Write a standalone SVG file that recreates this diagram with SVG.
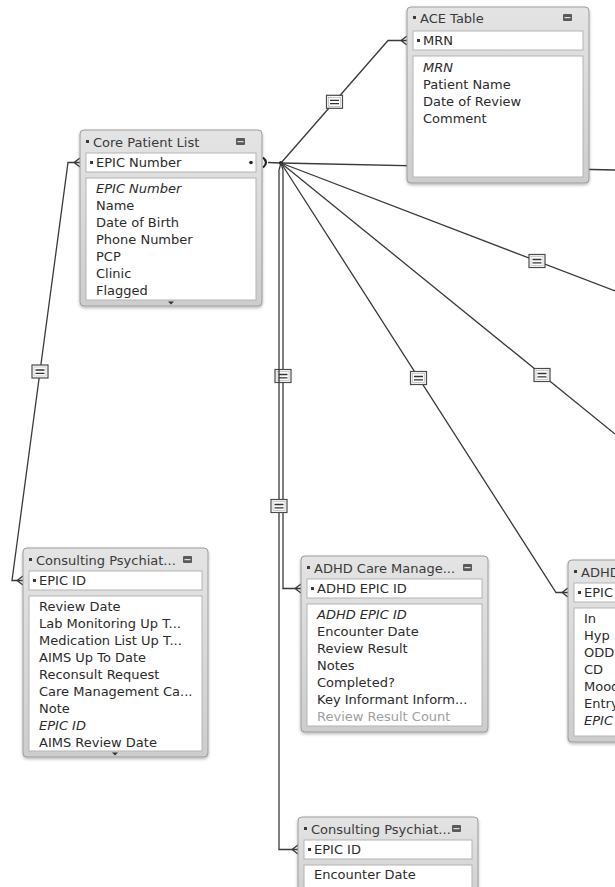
<svg xmlns="http://www.w3.org/2000/svg" width="615" height="887" viewBox="0 0 615 887">
<defs>
<style>
.frame{fill:url(#fg);stroke:#9c9c9c;stroke-width:1;filter:url(#sh)}
.box{fill:#fff;stroke:#b4b4b4;stroke-width:1}
.t{font-family:"DejaVu Sans","Liberation Sans",sans-serif;font-size:13px;fill:#2b2b2b}
.ti{fill:#3a3a3a}
.it{font-style:italic}
.dim{fill:#a0a0a0}
.bul{fill:#3a3a3a}
.conn{fill:none;stroke:#3a3a3a;stroke-width:1.3}
.one{fill:none;stroke:#222;stroke-width:2.2}
</style>
<linearGradient id="fg" x1="0" y1="0" x2="0" y2="1"><stop offset="0" stop-color="#e4e4e4"/><stop offset="1" stop-color="#cdcdcd"/></linearGradient>
<filter id="sh" x="-5%" y="-5%" width="110%" height="110%"><feDropShadow dx="0" dy="1.5" stdDeviation="1.5" flood-color="#000" flood-opacity="0.3"/></filter>
<g id="eq"><rect x="-8" y="-6.5" width="16" height="13" fill="#fff" stroke="#4a4a4a" stroke-width="1.2"/><rect x="-6" y="-4.5" width="12" height="9" fill="none" stroke="#aaa" stroke-width="0.6"/><path d="M-4.5,-1.5H4.5M-4.5,1.8H4.5" stroke="#333" stroke-width="1.3"/></g>
<path id="crow" d="M0,-4.5L-6,0L0,4.5M-6,0H0" fill="none" stroke="#3a3a3a" stroke-width="1.3"/>
<g id="ticon"><rect x="0" y="0" width="9" height="7" rx="1" fill="#5a5a5a"/><rect x="1.5" y="3" width="6" height="1.2" fill="#ddd"/></g>
</defs>
<rect width="615" height="887" fill="#fff"/>

<g id="connectors">
<path class="conn" d="M268,162.5L281,163"/>
<path class="one" d="M263,157.5Q269,162.5 263,167.5"/>
<circle cx="281" cy="163" r="2" fill="#222"/>
<path class="conn" d="M281,163L388,40.5H401"/>
<use href="#crow" x="407" y="40.5"/>
<use href="#eq" x="334.5" y="101.8"/>
<path class="conn" d="M281,163L615,170"/>
<path class="conn" d="M281,163L615,291"/>
<use href="#eq" x="537" y="261"/>
<path class="conn" d="M281,163L615,434"/>
<use href="#eq" x="542" y="375"/>
<path class="conn" d="M281,163L556,592.5H562"/>
<use href="#crow" x="568" y="592.5"/>
<use href="#eq" x="418.5" y="378"/>
<path class="conn" d="M281,163L283,170V588.5H295"/>
<use href="#crow" x="301" y="588.5"/>
<use href="#eq" x="283" y="376"/>
<path class="conn" d="M281,163L279,170V849.5H292"/>
<use href="#crow" x="298" y="849.5"/>
<use href="#eq" x="279" y="506"/>
<path class="conn" d="M74,162.5H68L12,580.5H17"/>
<use href="#crow" x="80" y="162.5"/>
<use href="#crow" x="23" y="580.5"/>
<use href="#eq" x="40" y="371.5"/>
</g>

<g id="core-patient-list">
<rect class="frame" x="80" y="130" width="182" height="176" rx="4"/>
<rect class="bul" x="86" y="140" width="3" height="3"/>
<text class="t ti" x="93" y="147">Core Patient List</text>
<use href="#ticon" x="236" y="138"/>
<rect class="box" x="86" y="153" width="170" height="19"/>
<rect class="bul" x="90" y="161" width="3" height="3"/>
<text class="t" x="96" y="167">EPIC Number</text>
<circle cx="251" cy="162.5" r="1.8" fill="#222"/>
<rect class="box" x="86" y="178" width="170" height="122"/>
<text class="t it" x="96" y="193">EPIC Number</text>
<text class="t" x="96" y="210">Name</text>
<text class="t" x="96" y="227">Date of Birth</text>
<text class="t" x="96" y="244">Phone Number</text>
<text class="t" x="96" y="261">PCP</text>
<text class="t" x="96" y="278">Clinic</text>
<text class="t" x="96" y="295">Flagged</text>
<path d="M168,301.5H174L171,304.5Z" fill="#333"/>
</g>

<g id="ace-table">
<rect class="frame" x="407" y="7" width="182" height="176" rx="4"/>
<rect class="bul" x="413" y="16" width="3" height="3"/>
<text class="t ti" x="420" y="23">ACE Table</text>
<use href="#ticon" x="563" y="14"/>
<rect class="box" x="413" y="31" width="170" height="19"/>
<rect class="bul" x="417" y="39" width="3" height="3"/>
<text class="t" x="423" y="45">MRN</text>
<rect class="box" x="413" y="56" width="170" height="121"/>
<text class="t it" x="423" y="72">MRN</text>
<text class="t" x="423" y="89">Patient Name</text>
<text class="t" x="423" y="106">Date of Review</text>
<text class="t" x="423" y="123">Comment</text>
</g>

<g id="consulting-psychiatry-left">
<rect class="frame" x="23" y="548" width="185" height="209" rx="4"/>
<rect class="bul" x="29" y="558" width="3" height="3"/>
<text class="t ti" x="36" y="565">Consulting Psychiat...</text>
<use href="#ticon" x="183" y="556"/>
<rect class="box" x="29" y="571" width="173" height="19"/>
<rect class="bul" x="33" y="579" width="3" height="3"/>
<text class="t" x="39" y="585">EPIC ID</text>
<rect class="box" x="29" y="596" width="173" height="155"/>
<text class="t" x="39" y="611">Review Date</text>
<text class="t" x="39" y="628">Lab Monitoring Up T...</text>
<text class="t" x="39" y="645">Medication List Up T...</text>
<text class="t" x="39" y="662">AIMS Up To Date</text>
<text class="t" x="39" y="679">Reconsult Request</text>
<text class="t" x="39" y="696">Care Management Ca...</text>
<text class="t" x="39" y="713">Note</text>
<text class="t it" x="39" y="730">EPIC ID</text>
<text class="t" x="39" y="747">AIMS Review Date</text>
<path d="M112,752.5H118L115,755.5Z" fill="#333"/>
</g>

<g id="adhd-care-management">
<rect class="frame" x="301" y="556" width="187" height="176" rx="4"/>
<rect class="bul" x="307" y="566" width="3" height="3"/>
<text class="t ti" x="314" y="573">ADHD Care Manage...</text>
<use href="#ticon" x="463" y="564"/>
<rect class="box" x="307" y="579" width="175" height="19"/>
<rect class="bul" x="311" y="587" width="3" height="3"/>
<text class="t" x="317" y="593">ADHD EPIC ID</text>
<rect class="box" x="307" y="604" width="175" height="122"/>
<text class="t it" x="317" y="619">ADHD EPIC ID</text>
<text class="t" x="317" y="636">Encounter Date</text>
<text class="t" x="317" y="653">Review Result</text>
<text class="t" x="317" y="670">Notes</text>
<text class="t" x="317" y="687">Completed?</text>
<text class="t" x="317" y="704">Key Informant Inform...</text>
<text class="t dim" x="317" y="721">Review Result Count</text>
</g>

<g id="adhd-right">
<rect class="frame" x="568" y="560" width="120" height="182" rx="4"/>
<rect class="bul" x="574" y="570" width="3" height="3"/>
<text class="t ti" x="581" y="577">ADHD</text>
<rect class="box" x="574" y="583" width="100" height="19"/>
<rect class="bul" x="578" y="591" width="3" height="3"/>
<text class="t" x="584" y="597">EPIC</text>
<rect class="box" x="574" y="608" width="100" height="128"/>
<text class="t" x="584" y="623">In</text>
<text class="t" x="584" y="640">Hyp</text>
<text class="t" x="584" y="657">ODD</text>
<text class="t" x="584" y="674">CD</text>
<text class="t" x="584" y="691">Mood</text>
<text class="t" x="584" y="708">Entry</text>
<text class="t it" x="584" y="725">EPIC</text>
</g>

<g id="consulting-psychiatry-bottom">
<rect class="frame" x="298" y="817" width="180" height="90" rx="4"/>
<rect class="bul" x="304" y="827" width="3" height="3"/>
<text class="t ti" x="311" y="834">Consulting Psychiat...</text>
<use href="#ticon" x="452" y="825"/>
<rect class="box" x="304" y="840" width="168" height="19"/>
<rect class="bul" x="308" y="848" width="3" height="3"/>
<text class="t" x="314" y="854">EPIC ID</text>
<rect class="box" x="304" y="865" width="168" height="40"/>
<text class="t" x="314" y="879">Encounter Date</text>
</g>
</svg>
